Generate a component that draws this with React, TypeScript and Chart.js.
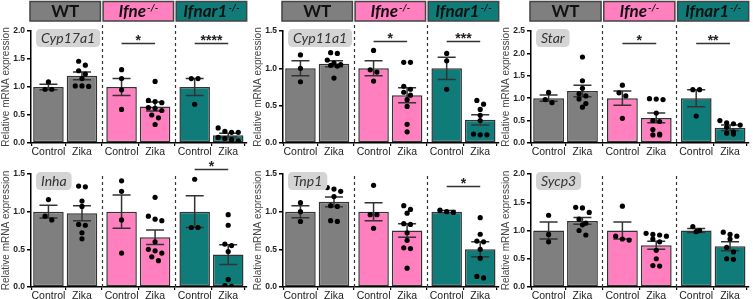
import React, { useEffect, useRef } from "react";
import { Chart, registerables } from "chart.js";
Chart.register(...registerables);

// ---------- data ----------
const categories = ["Control", "Zika", "Control", "Zika", "Control", "Zika"];
const genotypes = ["WT", "Ifne", "Ifnar1"];
const genotypeSup = ["", "-/-", "-/-"];
const genes = ["Cyp17a1", "Cyp11a1", "Star", "Inha", "Tnp1", "Sycp3"];
const yMaxes = [2.0, 1.5, 2.5, 1.5, 1.5, 2.0];

const cyp17a1Means = [1.0, 1.2, 1.0, 0.65, 1.0, 0.14];
const cyp17a1Sem = [0.05, 0.07, 0.15, 0.08, 0.15, 0.035];
const cyp17a1Points = [
  [1.09, 0.96, 0.96],
  [1.46, 1.39, 1.29, 1.23, 1.15, 1.02, 1.02, 1.01],
  [1.31, 1.15, 0.95, 0.6],
  [1.1, 0.76, 0.74, 0.72, 0.63, 0.62, 0.58, 0.5, 0.45, 0.33],
  [1.15, 1.15, 0.69],
  [0.27, 0.21, 0.19, 0.19, 0.1, 0.08, 0.06, 0.04],
];

const cyp11a1Means = [1.0, 1.06, 1.0, 0.64, 1.0, 0.31];
const cyp11a1Sem = [0.1, 0.04, 0.1, 0.1, 0.15, 0.07];
const cyp11a1Points = [
  [1.18, 1.0, 0.82],
  [1.21, 1.2, 1.11, 1.07, 1.05, 1.04, 1.03, 0.87],
  [1.24, 0.98, 0.95, 0.83],
  [1.08, 1.08, 0.76, 0.72, 0.68, 0.64, 0.58, 0.49, 0.25, 0.15],
  [1.2, 1.1, 0.72],
  [0.57, 0.52, 0.45, 0.37, 0.3, 0.12, 0.11, 0.11],
];

const starMeans = [1.0, 1.16, 1.0, 0.56, 1.0, 0.34];
const starSem = [0.07, 0.13, 0.16, 0.11, 0.19, 0.06];
const starPoints = [
  [1.13, 0.97, 0.9],
  [1.92, 1.39, 1.22, 1.1, 1.05, 0.98, 0.88, 0.8],
  [1.29, 1.12, 1.05, 0.55],
  [0.99, 0.98, 0.97, 0.67, 0.5, 0.48, 0.3, 0.2, 0.18, 0.18],
  [1.19, 1.19, 0.6],
  [0.5, 0.45, 0.43, 0.4, 0.35, 0.25, 0.22, 0.2],
];

const inhaMeans = [1.0, 0.98, 1.0, 0.66, 1.0, 0.43];
const inhaSem = [0.085, 0.1, 0.22, 0.095, 0.21, 0.13];
const inhaPoints = [
  [1.16, 0.94, 0.89],
  [1.34, 1.33, 1.14, 1.07, 0.83, 0.82, 0.72, 0.64],
  [1.41, 1.27, 0.89, 0.45],
  [1.19, 0.94, 0.9, 0.88, 0.6, 0.5, 0.48, 0.45, 0.4, 0.35],
  [1.43, 0.79, 0.79],
  [0.96, 0.82, 0.57, 0.55, 0.47, 0.1, 0.02, 0.01],
];

const tnp1Means = [1.0, 1.13, 1.0, 0.75, 1.0, 0.5];
const tnp1Sem = [0.08, 0.065, 0.12, 0.09, 0.015, 0.1];
const tnp1Points = [
  [1.12, 1.0, 0.87],
  [1.32, 1.3, 1.27, 1.2, 1.08, 1.07, 0.88, 0.87],
  [1.35, 0.96, 0.96, 0.78],
  [1.08, 1.03, 0.98, 0.84, 0.83, 0.72, 0.62, 0.52, 0.51, 0.25],
  [1.02, 1.0, 0.99],
  [0.92, 0.7, 0.61, 0.6, 0.5, 0.38, 0.14, 0.12],
];

const sycp3Means = [1.0, 1.17, 1.0, 0.74, 1.0, 0.72];
const sycp3Sem = [0.15, 0.06, 0.15, 0.07, 0.035, 0.08];
const sycp3Points = [
  [1.27, 0.93, 0.8],
  [1.41, 1.4, 1.32, 1.2, 1.13, 1.1, 1.0, 0.92],
  [1.43, 0.9, 0.85, 0.83],
  [0.95, 0.93, 0.92, 0.9, 0.85, 0.8, 0.65, 0.5, 0.38, 0.37],
  [1.07, 1.0, 0.98],
  [0.97, 0.93, 0.9, 0.85, 0.7, 0.62, 0.5, 0.49],
];

// significance: [genotype group index, label]; line height in data units
const cyp17a1Sig: [number, string][] = [[1, "*"], [2, "****"]];
const cyp11a1Sig: [number, string][] = [[1, "*"], [2, "***"]];
const starSig: [number, string][] = [[1, "*"], [2, "**"]];
const inhaSig: [number, string][] = [[2, "*"]];
const tnp1Sig: [number, string][] = [[2, "*"]];
const sycp3Sig: [number, string][] = [];
const sigLevels = [1.79, 1.36, 2.24, 1.56, 1.335, 0];

const allMeans = [cyp17a1Means, cyp11a1Means, starMeans, inhaMeans, tnp1Means, sycp3Means];
const allSem = [cyp17a1Sem, cyp11a1Sem, starSem, inhaSem, tnp1Sem, sycp3Sem];
const allPoints = [cyp17a1Points, cyp11a1Points, starPoints, inhaPoints, tnp1Points, sycp3Points];
const allSig = [cyp17a1Sig, cyp11a1Sig, starSig, inhaSig, tnp1Sig, sycp3Sig];

// ---------- styling / layout ----------
const groupColors = ["#7f7f7f", "#ff7fbf", "#0f7c7a"];
const GROUP_GAP = 0.18;
const xPos = (i: number) => Math.floor(i / 2) * (2 + GROUP_GAP) + (i % 2);
const X_MIN = -0.52;
const X_MAX = 5 + 2 * GROUP_GAP + 0.56;
const DOT_STEP = 0.2;
const SANS = "'Liberation Sans', Arial, sans-serif";
const LABEL_FONT = "Lato, 'Open Sans', sans-serif";

const panelLefts = [0, 252, 500];
const panelWidths = [251, 251, 253];
const rowTops = [0, 157];
const rowHeights = [157, 142];
const rowPadTop = [31, 17];
const rowAxisH = [14, 12];

function swarm(values: number[], yRange: number): number[] {
  const thresh = yRange * 0.045;
  const idx = values.map((_, i) => i).sort((a, b) => values[b] - values[a]);
  const offs = new Array(values.length).fill(0);
  let row: number[] = [];
  const flush = () => {
    const n = row.length;
    row.forEach((k, j) => {
      offs[k] = (j - (n - 1) / 2) * DOT_STEP;
    });
    row = [];
  };
  for (const k of idx) {
    if (row.length && (values[row[0]] - values[k] > thresh || row.length >= 4)) flush();
    row.push(k);
  }
  flush();
  return offs;
}

function roundRect(ctx: CanvasRenderingContext2D, x: number, y: number, w: number, h: number, r: number) {
  ctx.beginPath();
  ctx.moveTo(x + r, y);
  ctx.lineTo(x + w - r, y);
  ctx.quadraticCurveTo(x + w, y, x + w, y + r);
  ctx.lineTo(x + w, y + h - r);
  ctx.quadraticCurveTo(x + w, y + h, x + w - r, y + h);
  ctx.lineTo(x + r, y + h);
  ctx.quadraticCurveTo(x, y + h, x, y + h - r);
  ctx.lineTo(x, y + r);
  ctx.quadraticCurveTo(x, y, x + r, y);
  ctx.closePath();
}

function Panel({ p }: { p: number }) {
  const ref = useRef<HTMLCanvasElement>(null);
  const col = p % 3;
  const row = Math.floor(p / 3);
  const w = panelWidths[col];
  const h = rowHeights[row];

  useEffect(() => {
    const means = allMeans[p];
    const sem = allSem[p];
    const pts = allPoints[p];
    const yMax = yMaxes[p];
    const scatter: { x: number; y: number }[] = [];
    pts.forEach((vals, i) => {
      const offs = swarm(vals, yMax);
      vals.forEach((v, k) => scatter.push({ x: xPos(i) + offs[k], y: v }));
    });

    const overlay = {
      id: "overlay" + p,
      afterDatasetDraw(chart: any, args: any) {
        if (args.index !== 0) return;
        const ctx = chart.ctx;
        const xs = chart.scales.x;
        const ys = chart.scales.y;
        ctx.save();
        ctx.strokeStyle = "#333";
        ctx.lineWidth = 1.5;
        means.forEach((m, i) => {
          const x = xs.getPixelForValue(xPos(i));
          const yt = ys.getPixelForValue(m + sem[i]);
          const yb = ys.getPixelForValue(Math.max(0, m - sem[i]));
          ctx.beginPath();
          ctx.moveTo(x, yt);
          ctx.lineTo(x, yb);
          ctx.moveTo(x - 9, yt);
          ctx.lineTo(x + 9, yt);
          ctx.moveTo(x - 9, yb);
          ctx.lineTo(x + 9, yb);
          ctx.stroke();
        });
        ctx.restore();
      },
      afterDraw(chart: any) {
        const ctx = chart.ctx;
        const xs = chart.scales.x;
        const ys = chart.scales.y;
        const area = chart.chartArea;
        ctx.save();
        // dashed separators
        ctx.strokeStyle = "#333";
        ctx.lineWidth = 1.2;
        ctx.setLineDash([3, 3]);
        for (const g of [1, 3]) {
          const x = Math.round(xs.getPixelForValue((xPos(g) + xPos(g + 1)) / 2)) + 0.5;
          ctx.beginPath();
          ctx.moveTo(x, row === 0 ? 25 : area.top + 2);
          ctx.lineTo(x, area.bottom);
          ctx.stroke();
        }
        ctx.setLineDash([]);
        // headers
        if (row === 0) {
          for (let g = 0; g < 3; g++) {
            const cx = xs.getPixelForValue((xPos(2 * g) + xPos(2 * g + 1)) / 2);
            const bw = xs.getPixelForValue(2.1) - xs.getPixelForValue(0);
            ctx.fillStyle = groupColors[g];
            ctx.strokeStyle = "#444";
            ctx.lineWidth = 1.5;
            ctx.fillRect(cx - bw / 2, 1.5, bw, 19.5);
            ctx.strokeRect(cx - bw / 2, 1.5, bw, 19.5);
            ctx.fillStyle = "#111";
            ctx.textBaseline = "alphabetic";
            const main = genotypes[g];
            const sup = genotypeSup[g];
            const mainFont = (g === 0 ? "bold " : "italic bold ") + "17px " + LABEL_FONT;
            const supFont = "italic bold 10px " + LABEL_FONT;
            ctx.font = mainFont;
            const mw = ctx.measureText(main).width;
            ctx.font = supFont;
            const sw = sup ? ctx.measureText(sup).width + 1 : 0;
            const sx = cx - (mw + sw) / 2;
            ctx.font = mainFont;
            ctx.textAlign = "left";
            ctx.fillText(main, sx, 17);
            if (sup) {
              ctx.font = supFont;
              ctx.fillText(sup, sx + mw + 1, 11);
            }
          }
        }
        // gene label
        ctx.font = "italic 14px " + LABEL_FONT;
        const tw = ctx.measureText(genes[p]).width;
        const bx = area.left + 5;
        const by = area.top - 2;
        ctx.fillStyle = "#d4d4d4";
        roundRect(ctx, bx, by, tw + 10, 18, 5);
        ctx.fill();
        ctx.fillStyle = "#333";
        ctx.textAlign = "left";
        ctx.textBaseline = "middle";
        ctx.fillText(genes[p], bx + 5, by + 9.5);
        // significance
        const sigs = allSig[p];
        if (sigs.length) {
          const ly = Math.round(ys.getPixelForValue(sigLevels[p])) + 0.5;
          sigs.forEach(([g, label]) => {
            const x1 = xs.getPixelForValue(xPos(2 * g));
            const x2 = xs.getPixelForValue(xPos(2 * g + 1));
            ctx.strokeStyle = "#333";
            ctx.lineWidth = 1.5;
            ctx.beginPath();
            ctx.moveTo(x1, ly);
            ctx.lineTo(x2, ly);
            ctx.stroke();
            ctx.fillStyle = "#222";
            ctx.font = "bold 14px " + SANS;
            ctx.textAlign = "center";
            ctx.textBaseline = "alphabetic";
            ctx.fillText(label, (x1 + x2) / 2, ly + 1);
          });
        }
        ctx.restore();
      },
    };

    const chart = new Chart(ref.current!, {
      type: "bar",
      data: {
        datasets: [
          {
            type: "bar",
            data: means.map((m, i) => ({ x: xPos(i), y: m })),
            backgroundColor: means.map((_, i) => groupColors[Math.floor(i / 2)]),
            borderColor: "#333",
            borderWidth: 1.5,
            borderSkipped: false,
            barPercentage: 0.91,
            categoryPercentage: 1,
            order: 2,
          } as any,
          {
            type: "scatter",
            data: scatter,
            pointRadius: 2.6,
            pointBackgroundColor: "#000",
            pointBorderWidth: 0,
            order: 1,
          } as any,
        ],
      },
      options: {
        animation: false,
        responsive: false,
        maintainAspectRatio: false,
        events: [],
        layout: { padding: { top: rowPadTop[row], bottom: 0, left: 0, right: 3 } },
        plugins: { legend: { display: false }, tooltip: { enabled: false }, title: { display: false } },
        scales: {
          x: {
            type: "linear",
            min: X_MIN,
            max: X_MAX,
            offset: false,
            afterBuildTicks: (ax: any) => {
              ax.ticks = categories.map((_, i) => ({ value: xPos(i) }));
            },
            afterFit: (ax: any) => {
              ax.height = rowAxisH[row];
            },
            ticks: {
              callback: (_v: any, i: number) => categories[i],
              autoSkip: false,
              maxRotation: 0,
              minRotation: 0,
              padding: 0,
              color: "#222",
              font: { family: SANS, size: 10.5 },
            },
            grid: { drawOnChartArea: false, drawTicks: true, tickLength: 3, color: "#000", lineWidth: 1.2 },
            border: { display: true, color: "#000", width: 1.5 },
          },
          y: {
            min: 0,
            max: yMaxes[p],
            afterFit: (ax: any) => {
              ax.width = 31;
            },
            ticks: {
              stepSize: 0.5,
              callback: (v: any) => Number(v).toFixed(1),
              color: "#222",
              padding: 2,
              font: { family: SANS, size: 8.5, weight: "bold" },
            },
            grid: { drawOnChartArea: false, drawTicks: true, tickLength: 4, color: "#000", lineWidth: 1.5 },
            border: { display: true, color: "#000", width: 1.5 },
            title: {
              display: true,
              text: "Relative mRNA expression",
              color: "#444",
              font: { family: SANS, size: 10 },
              padding: { top: 0, bottom: 0 },
            },
          },
        },
      } as any,
      plugins: [overlay as any],
    });
    return () => chart.destroy();
  }, [p]);

  return (
    <canvas
      ref={ref}
      width={w}
      height={h}
      style={{
        position: "absolute",
        left: panelLefts[col],
        top: rowTops[row],
        width: w,
        height: h,
        display: "block",
      }}
    />
  );
}

export default function App() {
  return (
    <div
      style={{
        position: "absolute",
        left: 0,
        top: 0,
        width: 753,
        height: 299,
        background: "#fff",
        overflow: "hidden",
      }}
    >
      {[0, 1, 2, 3, 4, 5].map((p) => (
        <Panel key={p} p={p} />
      ))}
    </div>
  );
}
